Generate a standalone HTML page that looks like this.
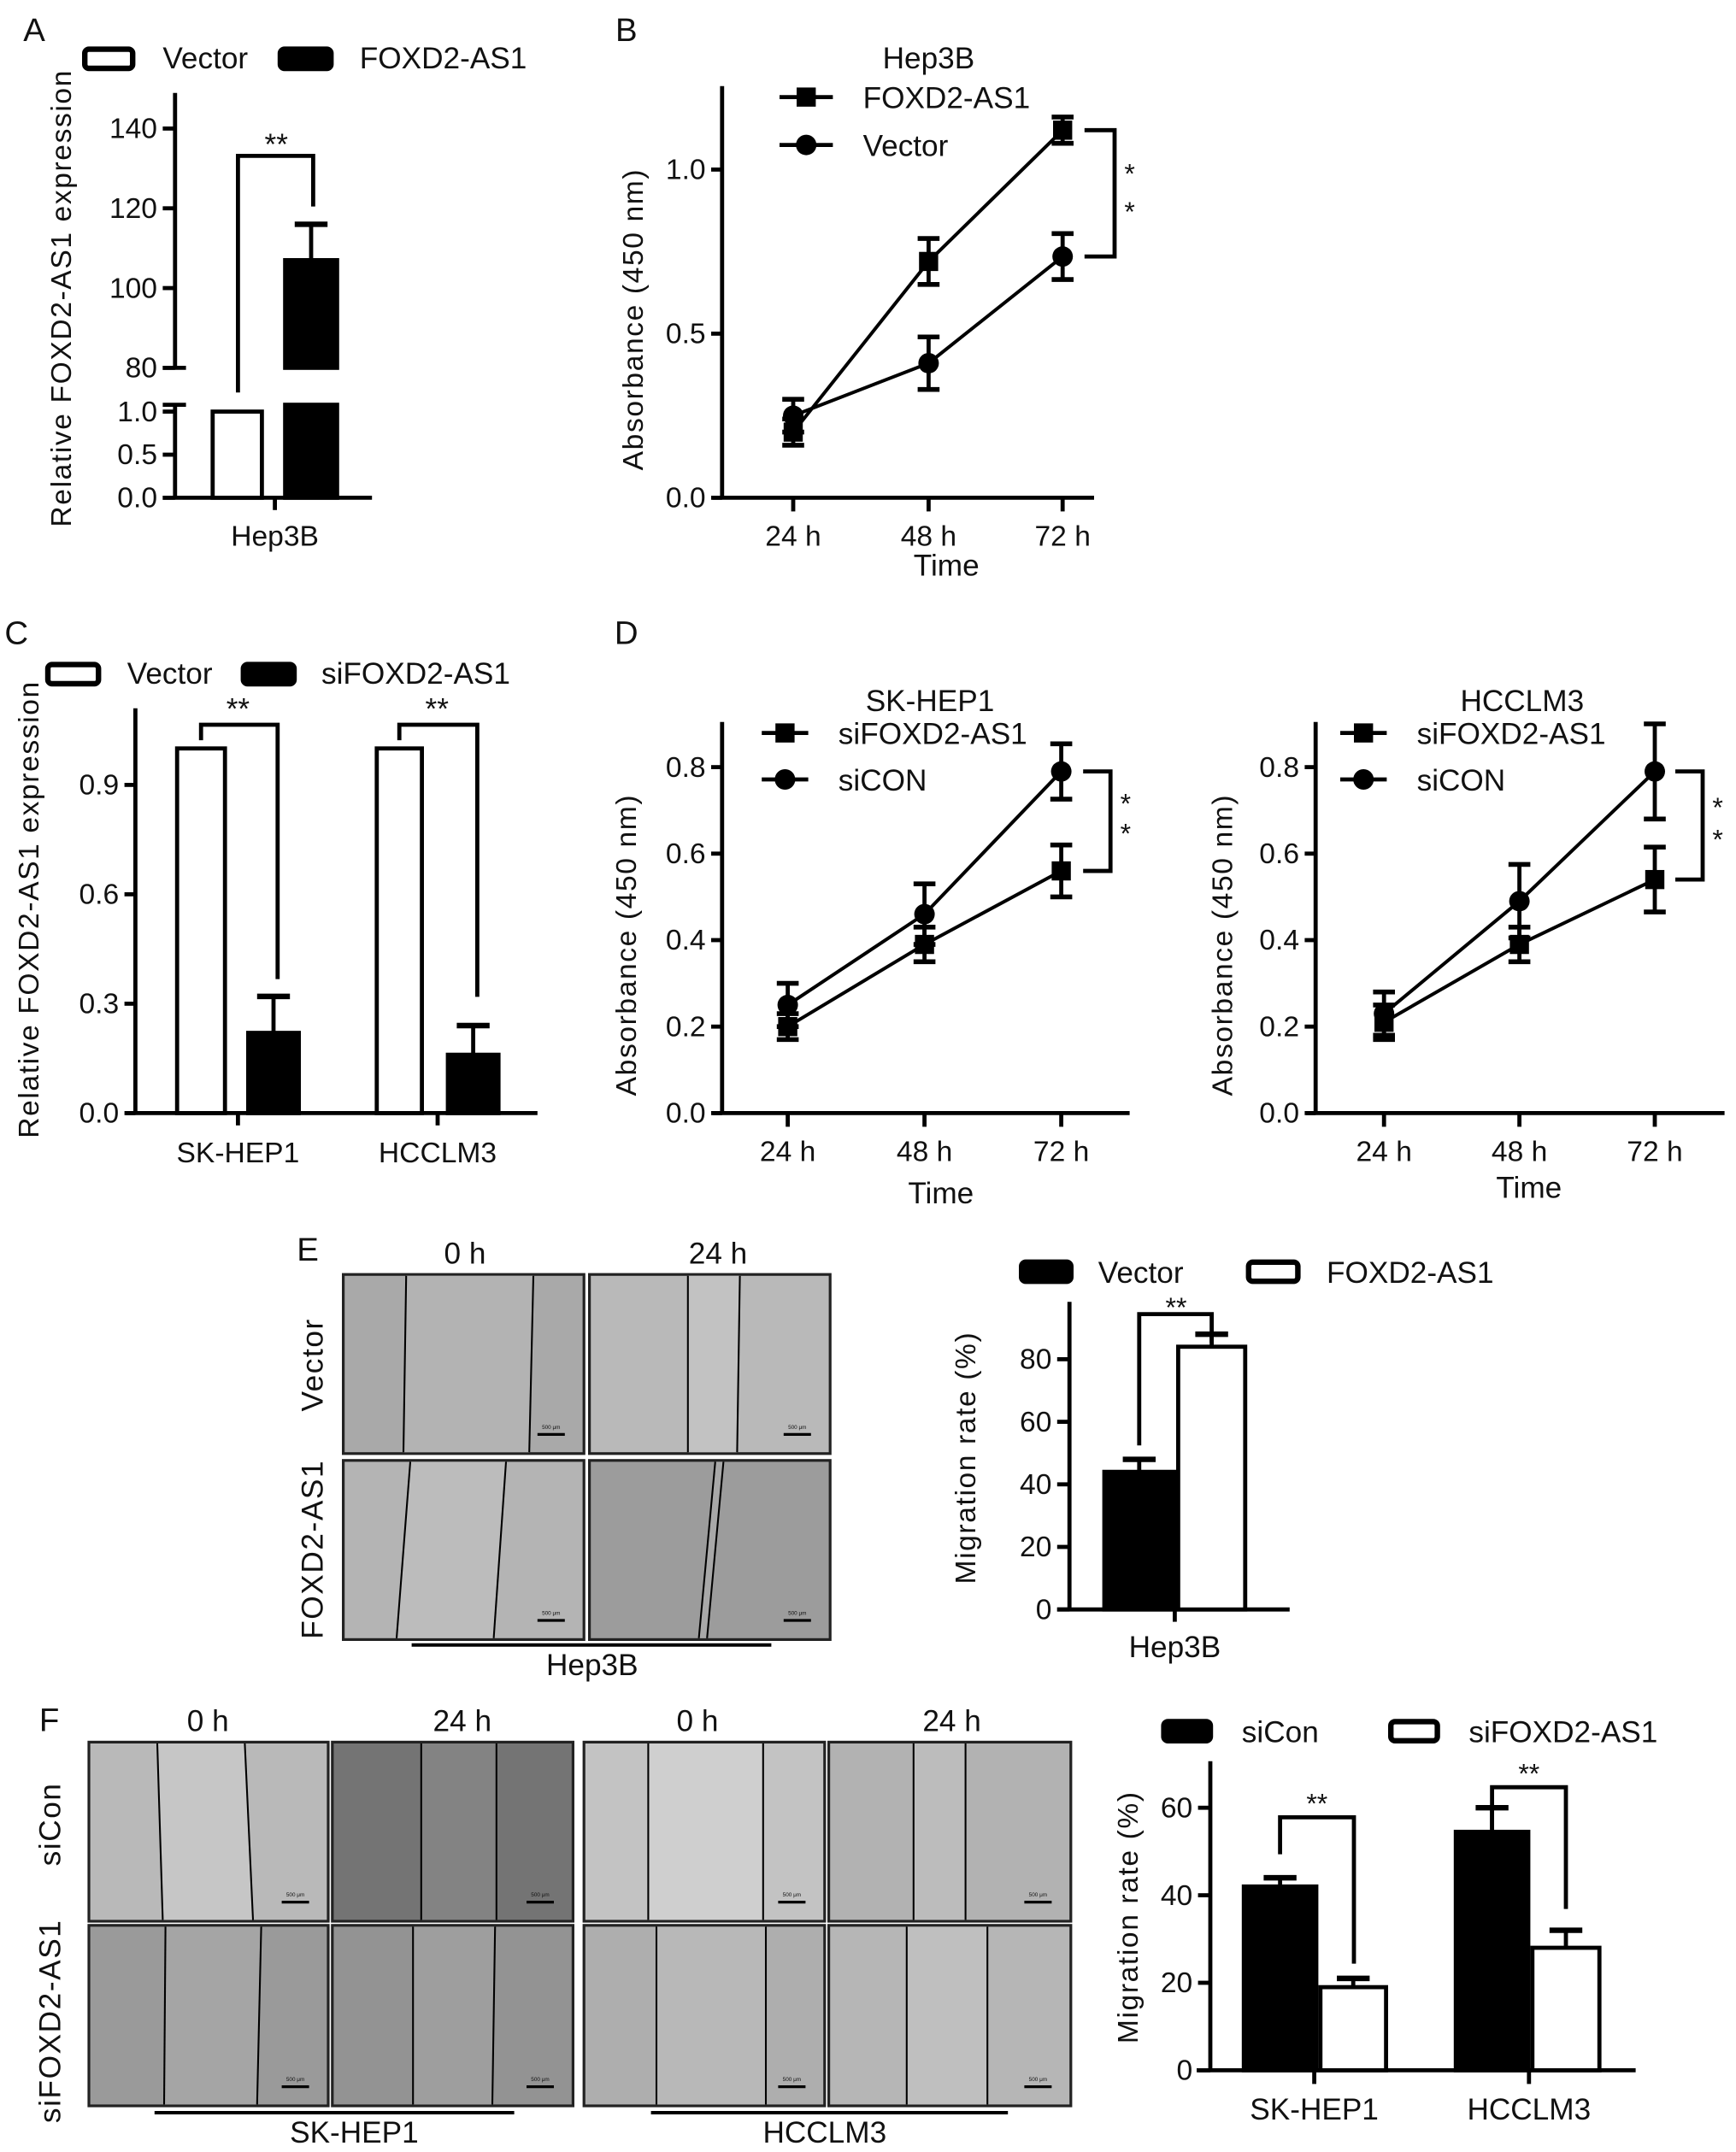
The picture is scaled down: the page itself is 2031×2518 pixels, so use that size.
<!DOCTYPE html>
<html><head><meta charset="utf-8"><style>
html,body{margin:0;padding:0;background:#fff;}
svg{display:block;}
text{font-family:"Liberation Sans",Arial,sans-serif;fill:#111;}
</style></head><body>
<svg id="fig" width="2031" height="2518" viewBox="0 0 1269.375 1573.75" xmlns="http://www.w3.org/2000/svg">
<rect x="0" y="0" width="1269.375" height="1573.75" fill="#fff"/>
<g id="root"></g>
</svg>
<script>
// ---- Data ----
const aGroups = ["Hep3B"];
const aVector = [1.0];
const aFoxd = [107];
const aFoxdErr = [9];
const bTimes = ["24 h", "48 h", "72 h"];
const bFoxd = [0.20, 0.72, 1.12];
const bFoxdErr = [0.04, 0.07, 0.04];
const bVector = [0.25, 0.41, 0.735];
const bVectorErr = [0.05, 0.08, 0.07];
const bTicks = [0.0, 0.5, 1.0];
const cGroups = ["SK-HEP1", "HCCLM3"];
const cVector = [1.0, 1.0];
const cSi = [0.22, 0.16];
const cSiErr = [0.10, 0.08];
const cTicks = [0.0, 0.3, 0.6, 0.9];
const dTimes = ["24 h", "48 h", "72 h"];
const dSkSi = [0.20, 0.39, 0.56];
const dSkSiErr = [0.03, 0.04, 0.06];
const dSkCon = [0.25, 0.46, 0.79];
const dSkConErr = [0.05, 0.07, 0.064];
const dHcSi = [0.21, 0.39, 0.54];
const dHcSiErr = [0.04, 0.04, 0.075];
const dHcCon = [0.23, 0.49, 0.79];
const dHcConErr = [0.05, 0.085, 0.11];
const dTicks = [0.0, 0.2, 0.4, 0.6, 0.8];
const eGroups = ["Hep3B"];
const eVector = [44];
const eVectorErr = [4];
const eFoxd = [84];
const eFoxdErr = [4];
const eTicks = [0, 20, 40, 60, 80];
const fGroups = ["SK-HEP1", "HCCLM3"];
const fCon = [42, 54.5];
const fConErr = [2, 5.5];
const fSi = [19, 28];
const fSiErr = [2, 4];
const fTicks = [0, 20, 40, 60];

const NS = "http://www.w3.org/2000/svg";
const root = document.getElementById("root");
function mk(tag, attrs, name, parent) {
  const el = document.createElementNS(NS, tag);
  for (const k in attrs) el.setAttribute(k, attrs[k]);
  
  
  (parent || root).appendChild(el);
  return el;
}
function line(x1, y1, x2, y2, name, w) {
  return mk("line", {x1, y1, x2, y2, stroke: "#000", "stroke-width": w || 3}, name);
}
function poly(pts, name, w) {
  return mk("polyline", {points: pts.map(p => p.join(",")).join(" "), fill: "none", stroke: "#000", "stroke-width": w || 3}, name);
}
function txt(x, y, s, name, opt) {
  opt = opt || {};
  const t = mk("text", {x, y, "font-size": opt.size || 21, "text-anchor": opt.anchor || "middle"}, name);
  if (opt.rot) t.setAttribute("transform", "rotate(-90 " + x + " " + y + ")");
  if (opt.ls) t.setAttribute("letter-spacing", opt.ls);
  t.textContent = s;
  return t;
}
function bar(x1, x2, yTop, yBot, filled, name) {
  return mk("rect", {x: x1 + 1.5, y: yTop, width: x2 - x1 - 3, height: yBot - yTop, fill: filled ? "#000" : "#fff", stroke: "#000", "stroke-width": 3}, name);
}
function errUp(x, yTop, yVal, name) {
  line(x, yVal, x, yTop, name + "-stem");
  line(x - 12, yTop, x + 12, yTop, name + "-cap", 4);
}
function errBoth(x, yHi, yLo, name) {
  line(x, yHi, x, yLo, name + "-stem");
  line(x - 8, yHi, x + 8, yHi, name + "-cap-top", 3.5);
  line(x - 8, yLo, x + 8, yLo, name + "-cap-bottom", 3.5);
}
function square(x, y, name) { mk("rect", {x: x - 7, y: y - 7, width: 14, height: 14, fill: "#000"}, name); }
function circle(x, y, name) { mk("circle", {cx: x, cy: y, r: 7.5, fill: "#000"}, name); }
function legendBox(x1, x2, y, filled, name) {
  mk("rect", {x: x1, y: y - 7, width: x2 - x1, height: 14, rx: 3, fill: filled ? "#000" : "#fff", stroke: "#000", "stroke-width": 4}, name);
}

// ===== Panel A =====
txt(25, 30, "A", "panel-label-a", {size: 24});
legendBox(62, 97, 43, false, "legend-a-vector-swatch");
txt(119, 50, "Vector", "legend-a-vector", {anchor: "start", size: 22});
legendBox(205, 242, 43, true, "legend-a-foxd2-swatch");
txt(263, 50, "FOXD2-AS1", "legend-a-foxd2", {anchor: "start", size: 22});
const yAU = v => 269 - (v - 80) * (269 - 94) / 60;
const yAL = v => 364 - v * (364 - 301);
line(128, 68, 128, 269, "a-y-axis-upper");
line(119, 269, 136, 269, "a-y-break-upper");
line(128, 296, 128, 364, "a-y-axis-lower");
line(119, 296, 136, 296, "a-y-break-lower");
[80, 100, 120, 140].forEach(v => { line(119, yAU(v), 128, yAU(v), "a-y-tick"); txt(115, yAU(v) + 7, String(v), "a-y-tick-label", {anchor: "end"}); });
[0.0, 0.5, 1.0].forEach(v => { line(119, yAL(v), 128, yAL(v), "a-y-tick"); txt(115, yAL(v) + 7, v.toFixed(1), "a-y-tick-label", {anchor: "end"}); });
line(119, 364, 272, 364, "a-x-axis");
line(201, 364, 201, 373, "a-x-tick");
txt(201, 399, aGroups[0], "a-x-tick-label");
bar(154, 193, yAL(aVector[0]), 364, false, "a-bar-vector");
bar(207, 248, yAU(aFoxd[0]), 269, true, "a-bar-foxd2-upper");
bar(207, 248, 296, 364, true, "a-bar-foxd2-lower");
errUp(227.5, yAU(aFoxd[0] + aFoxdErr[0]), yAU(aFoxd[0]), "a-errorbar");
poly([[174, 287], [174, 114], [229, 114], [229, 151]], "a-significance-bracket");
txt(202, 113, "**", "a-significance-stars", {size: 22});
txt(52, 218, "Relative FOXD2-AS1 expression", "a-y-axis-title", {rot: true, size: 21, ls: 1});

// ===== Line chart helper =====
function lineChart(p) {
  const y = v => p.y0 - v * p.k;
  line(p.ax, p.top, p.ax, p.y0, p.id + "-y-axis");
  line(p.ax - 7, p.y0, p.xEnd, p.y0, p.id + "-x-axis");
  p.ticks.forEach(v => { line(p.ax - 8, y(v), p.ax, y(v), p.id + "-y-tick"); txt(p.ax - 12, y(v) + 7, v.toFixed(1), p.id + "-y-tick-label", {anchor: "end"}); });
  p.times.forEach((t, i) => { line(p.xs[i], p.y0, p.xs[i], p.y0 + 10, p.id + "-x-tick"); txt(p.xs[i], p.y0 + 35, t, p.id + "-x-tick-label"); });
  poly(p.s1.map((v, i) => [p.xs[i], y(v)]), p.id + "-line-" + p.n1, 2.5);
  poly(p.s2.map((v, i) => [p.xs[i], y(v)]), p.id + "-line-" + p.n2, 2.5);
  p.s1.forEach((v, i) => { errBoth(p.xs[i], y(v + p.e1[i]), y(v - p.e1[i]), p.id + "-err-" + p.n1); square(p.xs[i], y(v), p.id + "-point-" + p.n1); });
  p.s2.forEach((v, i) => { errBoth(p.xs[i], y(v + p.e2[i]), y(v - p.e2[i]), p.id + "-err-" + p.n2); circle(p.xs[i], y(v), p.id + "-point-" + p.n2); });
  // legend
  line(p.lx1, p.ly1, p.lx2, p.ly1, p.id + "-legend-line-1"); square((p.lx1 + p.lx2) / 2, p.ly1, p.id + "-legend-marker-1");
  txt(p.lx2 + 22, p.ly1 + 8, p.l1, p.id + "-legend-" + p.n1, {anchor: "start", size: 22});
  line(p.lx1, p.ly2, p.lx2, p.ly2, p.id + "-legend-line-2"); circle((p.lx1 + p.lx2) / 2, p.ly2, p.id + "-legend-marker-2");
  txt(p.lx2 + 22, p.ly2 + 8, p.l2, p.id + "-legend-" + p.n2, {anchor: "start", size: 22});
  // bracket
  const b1 = y(p.s1[2]), b2 = y(p.s2[2]);
  const top = Math.min(b1, b2), bot = Math.max(b1, b2);
  poly([[p.bx1, top], [p.bx2, top], [p.bx2, bot], [p.bx1, bot]], p.id + "-significance-bracket");
  txt(p.bx2 + 11, top + (bot - top) * 0.42, "*", p.id + "-star-1", {size: 20});
  txt(p.bx2 + 11, top + (bot - top) * 0.72, "*", p.id + "-star-2", {size: 20});
  txt(p.titleX, p.titleY, p.title, p.id + "-title", {size: 22});
  txt(p.ylx, (p.top + p.y0) / 2 + 20, "Absorbance (450 nm)", p.id + "-y-axis-title", {rot: true, size: 21, ls: 1});
  txt(p.timeX, p.timeY, "Time", p.id + "-x-axis-title", {size: 22});
}

// ===== Panel B =====
txt(458, 30, "B", "panel-label-b", {size: 24});
lineChart({id: "b", ax: 528, top: 63, y0: 364, k: 240, xEnd: 800, ticks: bTicks, times: bTimes, xs: [580, 679, 777],
  s1: bFoxd, e1: bFoxdErr, n1: "foxd2", l1: "FOXD2-AS1", s2: bVector, e2: bVectorErr, n2: "vector", l2: "Vector",
  lx1: 570, lx2: 609, ly1: 71, ly2: 106, bx1: 793, bx2: 815, title: "Hep3B", titleX: 679, titleY: 50, ylx: 470, timeX: 692, timeY: 421});

// ===== Panel C =====
txt(12, 471, "C", "panel-label-c", {size: 24});
legendBox(35, 72, 493, false, "legend-c-vector-swatch");
txt(93, 500, "Vector", "legend-c-vector", {anchor: "start", size: 22});
legendBox(178, 215, 493, true, "legend-c-si-swatch");
txt(235, 500, "siFOXD2-AS1", "legend-c-si", {anchor: "start", size: 22});
const yC = v => 814 - v * (814 - 574) / 0.9;
line(99, 518, 99, 814, "c-y-axis");
line(92, 814, 393, 814, "c-x-axis");
cTicks.forEach(v => { line(91, yC(v), 99, yC(v), "c-y-tick"); txt(87, yC(v) + 7, v.toFixed(1), "c-y-tick-label", {anchor: "end"}); });
const cWx = [[128, 166], [274, 310]], cBx = [[180, 220], [326, 366]], cTx = [174, 320];
cGroups.forEach((g, i) => {
  line(cTx[i], 814, cTx[i], 823, "c-x-tick");
  txt(cTx[i], 850, g, "c-x-tick-label");
  bar(cWx[i][0], cWx[i][1], yC(cVector[i]), 814, false, "c-bar-vector");
  bar(cBx[i][0], cBx[i][1], yC(cSi[i]), 814, true, "c-bar-si");
  errUp((cBx[i][0] + cBx[i][1]) / 2, yC(cSi[i] + cSiErr[i]), yC(cSi[i]), "c-errorbar");
  const xl = (cWx[i][0] + cWx[i][1]) / 2 - 0, xr = (cBx[i][0] + cBx[i][1]) / 2 + 1;
  poly([[xl, yC(cVector[i]) - 6], [xl, 530], [xr + 2, 530], [xr + 2, 716 + i * 13]], "c-significance-bracket");
  txt((xl + xr) / 2, 526, "**", "c-significance-stars", {size: 22});
});
txt(28, 665, "Relative FOXD2-AS1 expression", "c-y-axis-title", {rot: true, size: 21, ls: 1});

// ===== Panel D =====
txt(458, 471, "D", "panel-label-d", {size: 24});
const kD = (814 - 561) / 0.8;
lineChart({id: "d-skhep1", ax: 528, top: 528, y0: 814, k: kD, xEnd: 826, ticks: dTicks, times: dTimes, xs: [576, 676, 776],
  s1: dSkSi, e1: dSkSiErr, n1: "sifoxd2", l1: "siFOXD2-AS1", s2: dSkCon, e2: dSkConErr, n2: "sicon", l2: "siCON",
  lx1: 557, lx2: 591, ly1: 536, ly2: 570, bx1: 792, bx2: 812, title: "SK-HEP1", titleX: 680, titleY: 520, ylx: 465, timeX: 688, timeY: 880});
lineChart({id: "d-hcclm3", ax: 962, top: 528, y0: 814, k: kD, xEnd: 1261, ticks: dTicks, times: dTimes, xs: [1012, 1111, 1210],
  s1: dHcSi, e1: dHcSiErr, n1: "sifoxd2", l1: "siFOXD2-AS1", s2: dHcCon, e2: dHcConErr, n2: "sicon", l2: "siCON",
  lx1: 980, lx2: 1014, ly1: 536, ly2: 570, bx1: 1225, bx2: 1245, title: "HCCLM3", titleX: 1113, titleY: 520, ylx: 901, timeX: 1118, timeY: 876});

// ===== Wound images =====
function wound(x, y, w, h, bg, gap, l1a, l1b, l2a, l2b, name) {
  mk("rect", {x, y, width: w, height: h, fill: bg, stroke: "#222", "stroke-width": 2}, name + "-frame");
  mk("polygon", {points: [[x + l1a, y + 1], [x + l2a, y + 1], [x + l2b, y + h - 1], [x + l1b, y + h - 1]].map(p => p.join(",")).join(" "), fill: gap}, name + "-wound-gap");
  line(x + l1a, y + 1, x + l1b, y + h - 1, name + "-edge-left", 1.3);
  line(x + l2a, y + 1, x + l2b, y + h - 1, name + "-edge-right", 1.3);
  line(x + w - 34, y + h - 14, x + w - 14, y + h - 14, name + "-scale-bar", 2);
  txt(x + w - 24, y + h - 18, "500 μm", name + "-scale-label", {size: 4});
}
// Panel E
txt(225, 922, "E", "panel-label-e", {size: 24});
txt(340, 924, "0 h", "e-col-0h", {size: 22});
txt(525, 924, "24 h", "e-col-24h", {size: 22});
wound(251, 932, 176, 131, "#a9a9a9", "#b3b3b3", 46, 44, 139, 136, "e-vector-0h");
wound(431, 932, 176, 131, "#b9b9b9", "#c2c2c2", 72, 72, 110, 108, "e-vector-24h");
wound(251, 1068, 176, 131, "#b4b4b4", "#bcbcbc", 49, 39, 119, 110, "e-foxd2-0h");
wound(431, 1068, 176, 131, "#9c9c9c", "#a8a8a8", 92, 80, 98, 86, "e-foxd2-24h");
txt(236, 998, "Vector", "e-row-vector", {rot: true, size: 22, ls: 1});
txt(236, 1133, "FOXD2-AS1", "e-row-foxd2", {rot: true, size: 22, ls: 1});
line(301, 1203, 564, 1203, "e-group-underline", 2.5);
txt(433, 1225, "Hep3B", "e-group-label", {size: 22});

// Panel E bar chart
legendBox(747, 783, 930, true, "legend-e-vector-swatch");
txt(803, 938, "Vector", "legend-e-vector", {anchor: "start", size: 22});
legendBox(913, 949, 930, false, "legend-e-foxd2-swatch");
txt(970, 938, "FOXD2-AS1", "legend-e-foxd2", {anchor: "start", size: 22});
const yE = v => 1177 - v * (1177 - 994) / 80;
line(782, 952, 782, 1177, "e-y-axis");
line(773, 1177, 943, 1177, "e-x-axis");
eTicks.forEach(v => { line(773, yE(v), 782, yE(v), "e-y-tick"); txt(769, yE(v) + 7, String(v), "e-y-tick-label", {anchor: "end"}); });
line(859, 1177, 859, 1186, "e-x-tick");
txt(859, 1212, eGroups[0], "e-x-tick-label", {size: 22});
bar(806, 860, yE(eVector[0]), 1177, true, "e-bar-vector");
bar(860, 912, yE(eFoxd[0]), 1177, false, "e-bar-foxd2");
errUp(833, yE(eVector[0] + eVectorErr[0]), yE(eVector[0]), "e-errorbar-vector");
errUp(886, yE(eFoxd[0] + eFoxdErr[0]), yE(eFoxd[0]), "e-errorbar-foxd2");
poly([[833, 1057], [833, 961], [886, 961], [886, 982]], "e-significance-bracket");
txt(860, 963, "**", "e-significance-stars", {size: 20});
txt(713, 1066, "Migration rate (%)", "e-y-axis-title", {rot: true, size: 21, ls: 1});

// Panel F
txt(36, 1266, "F", "panel-label-f", {size: 24});
txt(152, 1266, "0 h", "f-col-sk-0h", {size: 22});
txt(338, 1266, "24 h", "f-col-sk-24h", {size: 22});
txt(510, 1266, "0 h", "f-col-hcc-0h", {size: 22});
txt(696, 1266, "24 h", "f-col-hcc-24h", {size: 22});
wound(65, 1274, 175, 131, "#b9b9b9", "#c6c6c6", 50, 54, 114, 120, "f-sicon-sk-0h");
wound(243, 1274, 176, 131, "#747474", "#838383", 65, 65, 120, 120, "f-sicon-sk-24h");
wound(427, 1274, 176, 131, "#c3c3c3", "#cfcfcf", 47, 47, 131, 131, "f-sicon-hcc-0h");
wound(606, 1274, 177, 131, "#b2b2b2", "#bcbcbc", 62, 62, 100, 100, "f-sicon-hcc-24h");
wound(65, 1408, 175, 132, "#9a9a9a", "#a5a5a5", 56, 55, 126, 123, "f-si-sk-0h");
wound(243, 1408, 176, 132, "#939393", "#9e9e9e", 59, 59, 119, 117, "f-si-sk-24h");
wound(427, 1408, 176, 132, "#aeaeae", "#b8b8b8", 53, 53, 133, 133, "f-si-hcc-0h");
wound(606, 1408, 177, 132, "#b6b6b6", "#bfbfbf", 57, 57, 116, 116, "f-si-hcc-24h");
txt(44, 1334, "siCon", "f-row-sicon", {rot: true, size: 22, ls: 1});
txt(44, 1478, "siFOXD2-AS1", "f-row-si", {rot: true, size: 22, ls: 1});
line(113, 1545, 376, 1545, "f-sk-underline", 2.5);
txt(259, 1567, "SK-HEP1", "f-sk-label", {size: 22});
line(476, 1545, 737, 1545, "f-hcc-underline", 2.5);
txt(603, 1567, "HCCLM3", "f-hcc-label", {size: 22});

// Panel F bar chart
legendBox(851, 885, 1266, true, "legend-f-sicon-swatch");
txt(908, 1274, "siCon", "legend-f-sicon", {anchor: "start", size: 22});
legendBox(1017, 1051, 1266, false, "legend-f-si-swatch");
txt(1074, 1274, "siFOXD2-AS1", "legend-f-si", {anchor: "start", size: 22});
const yF = v => 1514 - v * (1514 - 1322) / 60;
line(885, 1288, 885, 1514, "f-y-axis");
line(875, 1514, 1196, 1514, "f-x-axis");
fTicks.forEach(v => { line(876, yF(v), 885, yF(v), "f-y-tick"); txt(872, yF(v) + 7, String(v), "f-y-tick-label", {anchor: "end"}); });
const fBx = [[908, 964], [1063, 1119]], fWx = [[964, 1015], [1119, 1171]], fTx = [961, 1118];
const fBrTop = [1329, 1307], fBrL = [1356, 1338], fBrR = [1436, 1396];
fGroups.forEach((g, i) => {
  line(fTx[i], 1514, fTx[i], 1524, "f-x-tick");
  txt(fTx[i], 1550, g, "f-x-tick-label", {size: 22});
  bar(fBx[i][0], fBx[i][1], yF(fCon[i]), 1514, true, "f-bar-sicon");
  bar(fWx[i][0], fWx[i][1], yF(fSi[i]), 1514, false, "f-bar-si");
  const xc = (fBx[i][0] + fBx[i][1]) / 2, xw = (fWx[i][0] + fWx[i][1]) / 2;
  errUp(xc, yF(fCon[i] + fConErr[i]), yF(fCon[i]), "f-errorbar-sicon");
  errUp(xw, yF(fSi[i] + fSiErr[i]), yF(fSi[i]), "f-errorbar-si");
  const xl = fBx[i][0] + 28, xr = fWx[i][0] + 26;
  poly([[xl, fBrL[i]], [xl, fBrTop[i]], [xr, fBrTop[i]], [xr, fBrR[i]]], "f-significance-bracket");
  txt((xl + xr) / 2, fBrTop[i] - 3, "**", "f-significance-stars", {size: 20});
});
txt(832, 1402, "Migration rate (%)", "f-y-axis-title", {rot: true, size: 21, ls: 1});
</script>
</body></html>
